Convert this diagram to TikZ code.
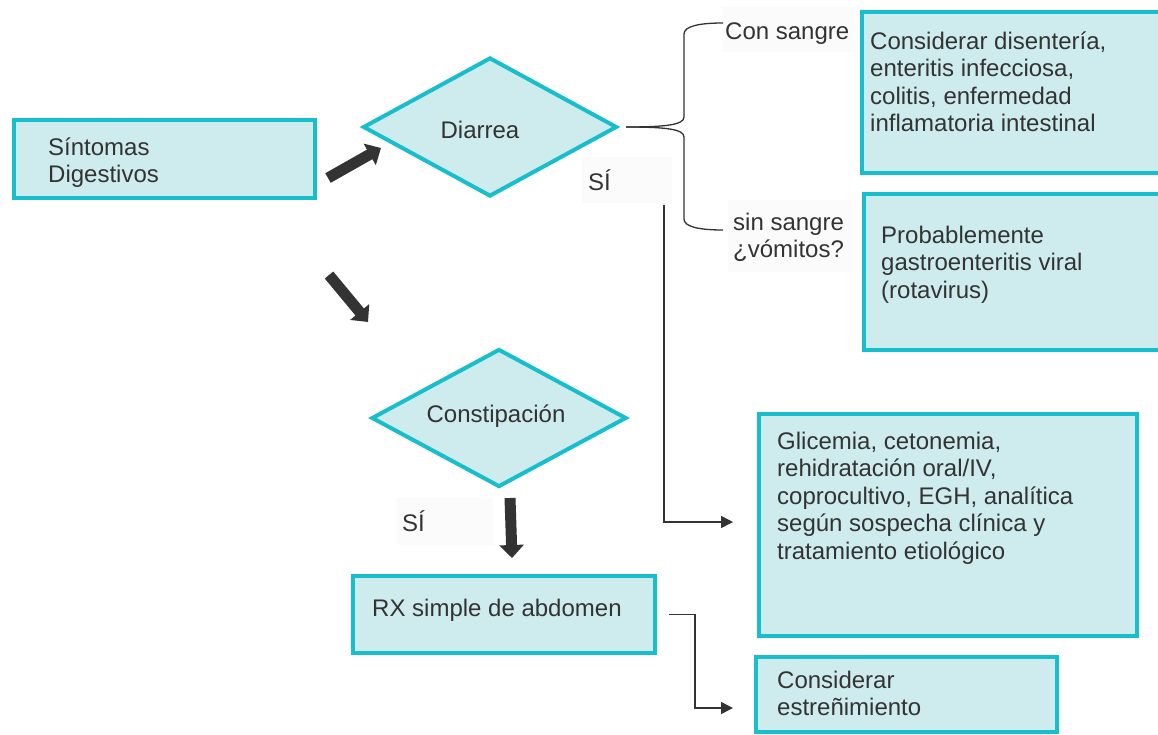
\documentclass[tikz,border=0pt]{standalone}
\usepackage{fontspec}
\setmainfont{Liberation Sans}
\usetikzlibrary{arrows.meta,shapes.geometric,calc}
\definecolor{bfill}{HTML}{CEEBEE}
\definecolor{bline}{HTML}{17BECB}
\definecolor{tcol}{HTML}{333333}
\definecolor{sibg}{HTML}{FBFBFB}
\begin{document}
\begin{tikzpicture}[x=1pt,y=-1pt,
  box/.style={draw=bline, fill=bfill, line width=4pt, inner sep=0pt, anchor=north west},
  dmd/.style={diamond, draw=bline, fill=bfill, line width=4pt, inner sep=0pt},
  txt/.style={text=tcol, font=\fontsize{24}{27.5}\selectfont, align=left, inner sep=0pt, anchor=base west},
  lbl/.style={fill=sibg, text=tcol, font=\fontsize{24}{27.5}\selectfont, align=left, inner sep=0pt},
  conn/.style={draw=tcol, line width=1.5pt, -{Triangle[width=12pt,length=12pt]}},
  bigarrow/.style={draw=tcol, line width=11pt, -{Triangle[width=24pt,length=13pt]}},
  bracel/.style={draw=tcol, line width=1.3pt}]
\path[use as bounding box] (0,0) rectangle (1158,734);
\clip (0,0) rectangle (1158,734);

% boxes
\node[box, minimum width=301pt, minimum height=78pt] (s) at (12,118) {};
\node[box, minimum width=320pt, minimum height=161pt] (d1) at (860,10) {};
\node[box, minimum width=320pt, minimum height=156pt] (d2) at (862,192) {};
\node[box, minimum width=378pt, minimum height=222pt] (gl) at (757,412) {};
\node[box, minimum width=302pt, minimum height=77pt] (rx) at (351,574) {};
\node[box, minimum width=301pt, minimum height=75pt] (es) at (754,655) {};

% diamonds
\node[dmd, minimum width=254pt, minimum height=139pt] (dia) at (490,127) {};
\node[dmd, minimum width=255pt, minimum height=138pt] (con) at (499,418) {};

% label backgrounds
\node[lbl, minimum width=90pt, minimum height=46pt, text width=78pt, anchor=north west, inner xsep=6pt] (si1) at (582,157) {SÍ};
\node[lbl, minimum width=96pt, minimum height=47pt, text width=86pt, anchor=north west, inner xsep=5pt] (si2) at (397,498) {SÍ};
\node[lbl, minimum width=130pt, minimum height=45pt, anchor=north west] (csbg) at (723,7) {};
\node[lbl, minimum width=125pt, minimum height=72pt, anchor=north west] (ssbg) at (728,200) {};

% texts (base anchor = baseline of last line)
\node[txt] (ts) at (48,182.5) {Síntomas\\Digestivos};
\node[txt, anchor=center] (tdia) at (480,130) {Diarrea};
\node[txt, anchor=center] (tcon) at (496,416) {Constipación};
\node[txt] (td1) at (870,131.5) {Considerar disentería,\\enteritis infecciosa,\\colitis, enfermedad\\inflamatoria intestinal};
\node[txt] (td2) at (881,298) {Probablemente\\gastroenteritis viral\\(rotavirus)};
\node[txt] (tgl) at (777,559) {Glicemia, cetonemia,\\rehidratación oral/IV,\\coprocultivo, EGH, analítica\\según sospecha clínica y\\tratamiento etiológico};
\node[txt] (trx) at (372,616) {RX simple de abdomen};
\node[txt] (tes) at (777,715.5) {Considerar\\estreñimiento};
\node[txt] (tcs) at (725,39) {Con sangre};
\node[txt] (tss) at (733,257.5) {sin sangre\\¿vómitos?};

% thick arrows
\coordinate (a1s) at (328,178); \coordinate (a1e) at (381,148);
\coordinate (a2s) at (329,275); \coordinate (a2e) at (368,322);
\coordinate (a3s) at (510,498); \coordinate (a3e) at (512,558);
\draw[bigarrow] (a1s) -- (a1e);
\draw[bigarrow] (a2s) -- (a2e);
\draw[bigarrow] (a3s) -- (a3e);

% brace
\coordinate (btip) at ($(dia.east)+(7,0)$);
\draw[bracel] (btip) .. controls (665,127) and (684,125) .. (684,117) -- (684,34) .. controls (684,26) and (700,23) .. (723,23);
\draw[bracel] (btip) .. controls (665,127) and (684,129) .. (684,137) -- (684,219) .. controls (684,227) and (700,230) .. (723,230);

% connectors
\coordinate (c1) at (664,205);
\draw[conn] (c1) |- ($(gl.west)+(-24,-3)$);
\draw[conn] ($(rx.east)+(12,0)$) -- ++(26,0) |- ($(es.west)+(-21,13.5)$);
\end{tikzpicture}
\end{document}
